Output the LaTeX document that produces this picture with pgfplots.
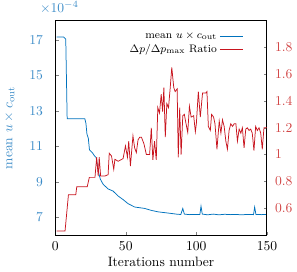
\documentclass[border=0pt]{standalone}
\usepackage{pgfplots}
\pgfplotsset{compat=1.18}
\usepackage{amsmath}
\definecolor{cblue}{RGB}{0,114,189}
\definecolor{cred}{RGB}{200,20,30}
\definecolor{tblue}{RGB}{60,140,200}
\definecolor{tred}{RGB}{210,70,70}
\begin{document}
\begin{tikzpicture}
\begin{axis}[
  scale only axis, width=156pt, height=158pt,
  xmin=0, xmax=150, ymin=6, ymax=18.1,
  xtick={0,50,100,150}, ytick={7,9,11,13,15,17},
  xtick pos=bottom, ytick pos=left, tick align=inside,
  major tick length=2.5pt,
  axis line style={line width=0.7pt},
  yticklabel style={color=tblue, xshift=-5.5pt},
  xticklabel style={yshift=-1.5pt},
  xlabel={Iterations number},
  xlabel style={yshift=2pt},
  ylabel={mean $u\times c_{\text{out}}$},
  ylabel style={color=tblue, yshift=4pt},
]
\addplot[color=cblue, line width=0.55pt] coordinates {
(1,17.17) (6,17.17) (7.5,17.05) (8.5,12.56) (21,12.56) (21.8,12.3) (22.5,11.7)
(23.5,11.45) (24.3,10.8) (26.3,10.65) (28,10.45) (29,10.37) (30.5,9.6) (32,9.15)
(34,8.86) (37.5,8.6) (41,8.48) (44.6,8.2) (48.1,8.0) (51.6,7.77) (56.3,7.58)
(63.4,7.5) (68.1,7.39) (72.7,7.31) (79.8,7.24) (86.8,7.17) (89,7.16) (90.4,7.5)
(91.5,7.18) (95,7.15) (98,7.16) (102.5,7.16) (103.3,7.63) (104.2,7.18) (108,7.14)
(112,7.18) (116,7.14) (120,7.17) (124,7.15) (128,7.16) (132,7.14) (136,7.16)
(140.5,7.15) (141.3,7.58) (142.2,7.16) (146,7.15) (150,7.16)
};
\coordinate (tl) at (rel axis cs:0.02,1.025);
\end{axis}
\node[anchor=south, color=tblue, inner sep=1pt] at (tl) {$\times10^{-4}$};
\begin{axis}[
  scale only axis, width=156pt, height=158pt,
  xmin=0, xmax=150, ymin=0.4, ymax=2.0,
  axis x line=none, axis y line*=right,
  ytick={0.6,0.8,1,1.2,1.4,1.6,1.8},
  tick align=inside, major tick length=2.5pt,
  axis line style={line width=0.7pt},
  yticklabel style={color=tred, xshift=2.5pt},
  legend style={at={(0.91,0.975)}, anchor=north east, draw=none, fill=none,
    font=\footnotesize, legend cell align=right, row sep=-1pt},
  legend plot pos=right,
]
\addlegendimage{color=cblue, line width=0.55pt}
\addlegendentry{mean $u\times c_{\text{out}}$}
\addplot[color=cred, line width=0.55pt] coordinates {
(1,0.43) (7,0.43) (9.4,0.70) (14.6,0.70) (15.3,0.76) (22.7,0.76) (24.2,0.83)
(28.2,0.83) (29.4,0.98) (30.5,0.84) (31.2,0.98) (32.2,0.84) (35.2,0.84) (37.5,0.85)
(38.3,1.01) (39.9,0.99) (41.5,0.89) (42.3,0.965) (44.6,0.95) (48.1,0.97) (49.8,1.065)
(51.2,0.98) (52.1,1.10) (53.3,0.915) (55.1,1.14) (56.3,1.05) (57.5,1.015) (58.7,1.11)
(59.9,1.13) (61.1,1.13) (62.9,1.08) (64.6,1.0) (66.9,1.0) (68.1,1.2) (69.2,0.96)
(70.4,1.10) (71.6,0.96) (72.7,1.35) (73.9,1.31) (75.1,1.45) (76.1,1.32) (77,1.50)
(78,1.13) (79.1,1.38) (80.3,1.35) (81.5,1.50) (82.6,1.65) (84,1.50) (85,1.47)
(86.4,1.49) (87.2,0.98) (88.2,1.35) (89.2,1.0) (90.4,1.29) (91.5,1.30) (92.7,1.23)
(93.9,1.165) (95.1,1.36) (96.3,1.28) (98.1,1.29) (99.3,1.17) (100,1.23) (101.4,1.47)
(102.8,1.28) (104.4,1.46) (106.8,1.46) (107.5,1.47) (108.5,1.21) (109.9,1.18)
(110.8,1.30) (112.2,1.28) (113.2,1.23) (114.6,1.04) (116.2,1.25) (117.4,1.16)
(118.5,1.26) (119.7,1.21) (120.9,1.10) (122,1.04) (123.2,1.18) (124.4,1.23)
(125.6,1.21) (126.8,1.23) (128,1.23) (129.1,1.10) (130.3,1.19) (131.5,1.16)
(132.6,1.20) (133.8,1.05) (135,1.19) (136.1,1.20) (137.3,1.18) (138.5,1.19)
(139.6,1.16) (140.8,1.03) (142,1.21) (143.2,1.18) (144.4,1.20) (145.6,1.16)
(146.7,1.04) (147.9,1.20) (149.1,1.20) (150,1.20)
};
\addlegendentry{$\Delta p/\Delta p_{\max}$ Ratio}
\end{axis}
\end{tikzpicture}
\end{document}
